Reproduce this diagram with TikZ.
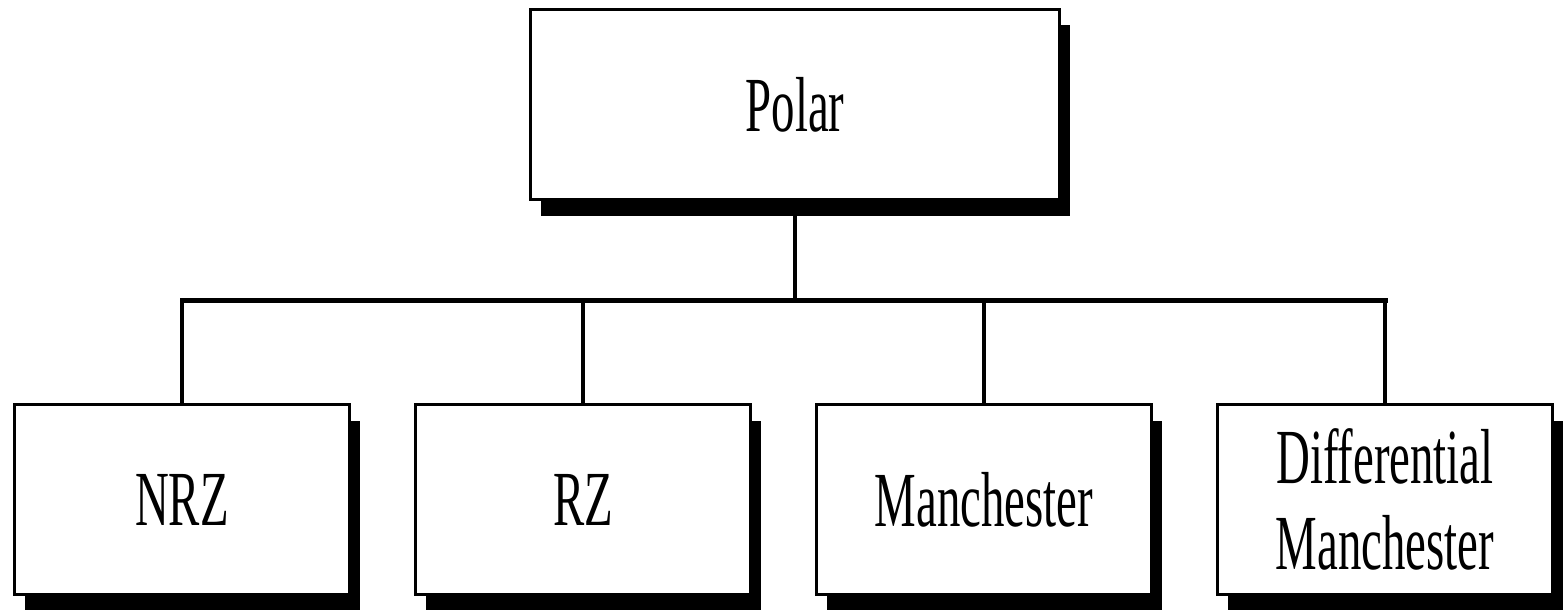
\documentclass[tikz,border=0pt]{standalone}
\usepackage{fontspec}
\newfontfamily\condserif[FakeStretch=0.6]{Liberation Serif}
\usetikzlibrary{shadows}
\tikzset{
  box/.style={draw=black, line width=3pt, fill=white, inner sep=0pt,
    minimum height=190pt, align=center,
    font=\condserif\fontsize{78}{86}\selectfont,
    drop shadow={shadow xshift=10pt, shadow yshift=-16pt, opacity=1, fill=black}},
  bigbox/.style={box, minimum width=529pt},
  smallbox/.style={box, minimum width=335pt},
  conn/.style={draw=black, line width=4pt},
}
\begin{document}
\begin{tikzpicture}[x=1pt,y=-1pt]
\useasboundingbox (0,0) rectangle (1564,610);
\coordinate (j) at (795,300);
\node[bigbox] (polar) at (795,104.5) {Polar};
\node[smallbox] (nrz) at (182,499.5) {NRZ};
\node[smallbox] (rz) at (583,499.5) {RZ};
\node[smallbox] (man) at (984,499.5) {Manchester};
\node[smallbox] (diff) at (1385,499.5) {Differential\\Manchester};
\draw[conn] (polar.south) ++(0,8) -- (j);
\draw[conn, line width=5pt, line cap=rect] (nrz.north |- j) -- (diff.north |- j);
\draw[conn] (nrz.north |- j) -- (nrz.north);
\draw[conn] (rz.north |- j) -- (rz.north);
\draw[conn] (man.north |- j) -- (man.north);
\draw[conn] (diff.north |- j) -- (diff.north);
\end{tikzpicture}
\end{document}
